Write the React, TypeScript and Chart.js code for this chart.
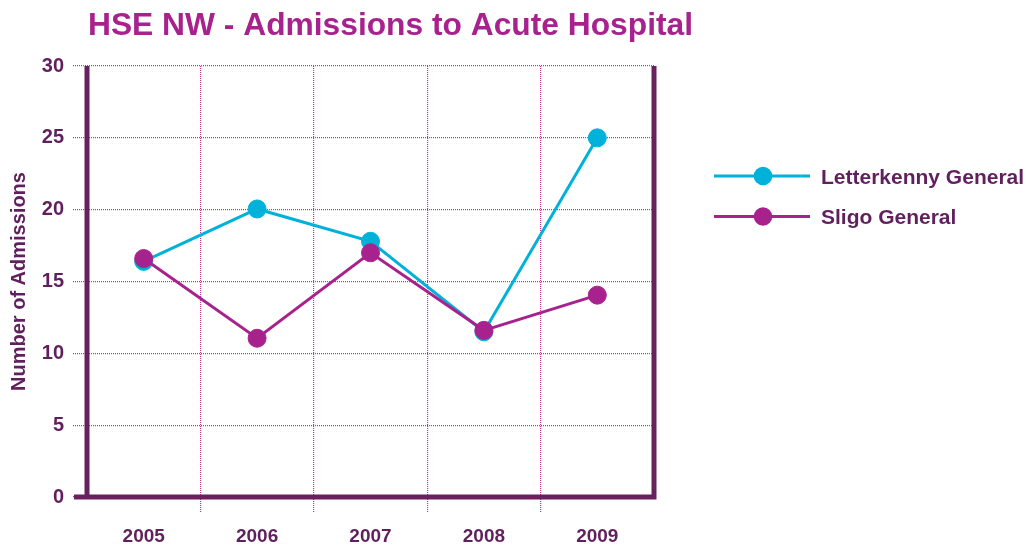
import React, { useEffect, useRef } from "react";
import { Chart, registerables } from "chart.js";

Chart.register(...registerables);

// ---- Data ----
const years = ["2005", "2006", "2007", "2008", "2009"];
const letterkenny = [16.4, 20.05, 17.8, 11.5, 25];
const sligo = [16.6, 11.05, 17.0, 11.6, 14.05];
const yTickValues = [0, 5, 10, 15, 20, 25, 30];
const seriesNames = ["Letterkenny General", "Sligo General"];
const chartTitle = "HSE NW - Admissions to Acute Hospital";
const yAxisTitle = "Number of Admissions";

// ---- Styles ----
const CYAN = "#00b1d9";
const MAGENTA = "#a8228e";
const TEXT = "#601f5d";
const AXIS = "#68205f";
const GRID = "#b8359a";
const FONT = "'Liberation Sans', Arial, Helvetica, sans-serif";

const decorPlugin = {
  id: "decor",
  beforeDatasetsDraw(chart: any) {
    const { ctx, chartArea: a } = chart;
    ctx.save();
    ctx.strokeStyle = AXIS;
    ctx.lineWidth = 5;
    ctx.lineCap = "butt";
    ctx.beginPath();
    ctx.moveTo(a.left, a.top);
    ctx.lineTo(a.left, a.bottom);
    ctx.moveTo(a.right, a.top);
    ctx.lineTo(a.right, a.bottom + 2.5);
    ctx.moveTo(a.left - 13, a.bottom);
    ctx.lineTo(a.right + 2.5, a.bottom);
    ctx.stroke();
    ctx.restore();
  },
  afterDraw(chart: any) {
    const { ctx } = chart;
    ctx.save();
    // Title
    ctx.font = `bold 32px ${FONT}`;
    ctx.fillStyle = MAGENTA;
    ctx.textBaseline = "alphabetic";
    ctx.textAlign = "left";
    const w = ctx.measureText(chartTitle).width;
    const sx = 605 / w;
    ctx.translate(88, 34.5);
    ctx.scale(sx, 1);
    ctx.fillText(chartTitle, 0, 0);
    ctx.restore();

    // Legend
    const colors = [CYAN, MAGENTA];
    const rows = [176, 216.5];
    ctx.save();
    ctx.font = `bold 21px ${FONT}`;
    ctx.textBaseline = "middle";
    ctx.textAlign = "left";
    seriesNames.forEach((name, i) => {
      const y = rows[i];
      ctx.strokeStyle = colors[i];
      ctx.lineWidth = 3;
      ctx.beginPath();
      ctx.moveTo(714, y);
      ctx.lineTo(810, y);
      ctx.stroke();
      ctx.fillStyle = colors[i];
      ctx.beginPath();
      ctx.arc(763, y, 9.3, 0, Math.PI * 2);
      ctx.fill();
      ctx.fillStyle = TEXT;
      ctx.fillText(name, 821, y + 2);
    });
    ctx.restore();
  },
};

export default function App() {
  const canvasRef = useRef<HTMLCanvasElement | null>(null);

  useEffect(() => {
    document.body.style.margin = "0";
    const canvas = canvasRef.current;
    if (!canvas) return;
    const xGridColor = (c: any) =>
      c.type !== "tick" || c.index === 0 ? "rgba(0,0,0,0)" : GRID;
    const chart = new Chart(canvas, {
      type: "line",
      data: {
        labels: years,
        datasets: [
          {
            label: seriesNames[0],
            data: letterkenny,
            borderColor: CYAN,
            backgroundColor: CYAN,
            pointBackgroundColor: CYAN,
            pointBorderColor: CYAN,
            borderWidth: 3,
            pointRadius: 9,
            pointBorderWidth: 1,
            tension: 0,
            order: 2,
          },
          {
            label: seriesNames[1],
            data: sligo,
            borderColor: MAGENTA,
            backgroundColor: MAGENTA,
            pointBackgroundColor: MAGENTA,
            pointBorderColor: MAGENTA,
            borderWidth: 3,
            pointRadius: 9,
            pointBorderWidth: 1,
            tension: 0,
            order: 1,
          },
        ],
      },
      options: {
        responsive: false,
        animation: false,
        devicePixelRatio: 1,
        layout: { padding: { top: 66, right: 381, bottom: 0, left: 0 } },
        plugins: {
          legend: { display: false },
          title: { display: false },
          tooltip: { enabled: false },
        },
        scales: {
          x: {
            offset: true,
            afterFit: (s: any) => {
              s.height = 54;
            },
            grid: {
              offset: true,
              color: xGridColor,
              lineWidth: 1.2,
              tickBorderDash: [1, 1],
              tickLength: 15,
              drawTicks: true,
            },
            border: { display: false, dash: [1, 1] },
            ticks: {
              color: TEXT,
              font: { family: FONT, size: 19, weight: "bold" },
              padding: 13,
            },
          },
          y: {
            min: 0,
            max: 30,
            afterFit: (s: any) => {
              s.width = 87;
            },
            afterBuildTicks: (s: any) => {
              s.ticks = yTickValues.map((v) => ({ value: v }));
            },
            grid: {
              color: GRID,
              lineWidth: 1.2,
              tickBorderDash: [1, 1],
              tickLength: 14,
            },
            border: { display: false, dash: [1, 1] },
            ticks: {
              color: TEXT,
              font: { family: FONT, size: 20, weight: "bold" },
              padding: 9,
            },
            title: {
              display: true,
              text: yAxisTitle,
              color: TEXT,
              font: { family: FONT, size: 20, weight: "bold" },
              padding: { top: 7, bottom: 0 },
            },
          },
        },
      },
      plugins: [decorPlugin],
    });
    return () => chart.destroy();
  }, []);

  return (
    <div style={{ width: 1035, height: 551, background: "#fff" }}>
      <canvas ref={canvasRef} width={1035} height={551} style={{ display: "block" }} />
    </div>
  );
}
